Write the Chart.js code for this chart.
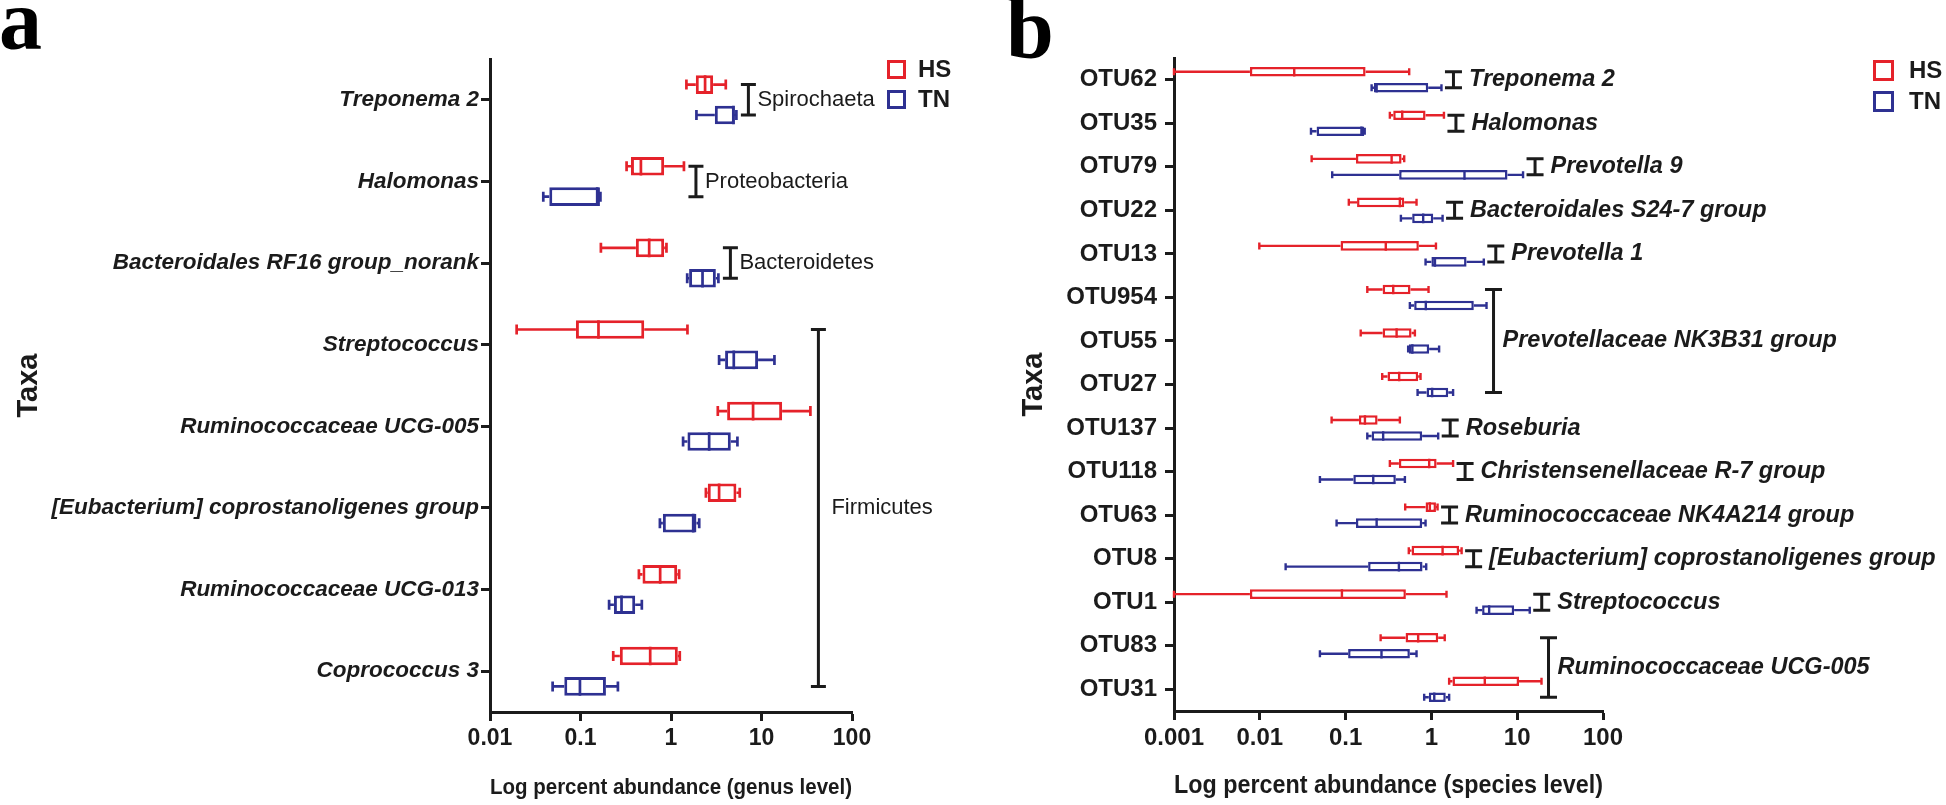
<!DOCTYPE html>
<html>
<head>
<meta charset="utf-8">
<script src="https://cdn.jsdelivr.net/npm/chart.js@4.4.1/dist/chart.umd.min.js"></script>
<style>
    html, body { margin: 0; padding: 0; background: #fff; }
    body { width: 1946px; height: 805px; position: relative; overflow: hidden; }
    canvas { position: absolute; top: 0; }
    #genus { left: 0; }
    #species { left: 973px; }
</style>
</head>
<body>
<canvas id="genus" width="973" height="805"></canvas>
<canvas id="species" width="973" height="805"></canvas>
<script>
const RED = '#e5222a';
const BLUE = '#2e3192';
const INK = '#1b1b1b';
const SANS = '"Liberation Sans", Arial, sans-serif';

const groups = ['HS', 'TN'];

// panel a, genus level: [min, q1, median, q3, max] in percent
const genusTaxa = [
    'Treponema 2', 'Halomonas', 'Bacteroidales RF16 group_norank', 'Streptococcus',
    'Ruminococcaceae UCG-005', '[Eubacterium] coprostanoligenes group',
    'Ruminococcaceae UCG-013', 'Coprococcus 3',
];
const genusHS = [
    [1.48, 1.88, 2.38, 2.92, 4.03],
    [0.323, 0.361, 0.465, 0.84, 1.39],
    [0.168, 0.409, 0.574, 0.84, 0.891],
    [0.0197, 0.089, 0.158, 0.506, 1.52],
    [3.29, 4.17, 8.07, 16.9, 34.7],
    [2.43, 2.55, 3.4, 5.28, 5.75],
    [0.442, 0.484, 0.759, 1.17, 1.23],
    [0.23, 0.272, 0.589, 1.19, 1.25],
];
const genusTN = [
    [1.91, 3.05, 4.9, 5.07, 5.28],
    [0.0388, 0.0452, 0.153, 0.164, 0.166],
    [1.51, 1.585, 2.23, 3.13, 3.34],
    [3.4, 3.96, 4.94, 9.17, 13.9],
    [1.36, 1.52, 2.64, 4.58, 5.42],
    [0.754, 0.813, 1.76, 1.91, 2.05],
    [0.207, 0.234, 0.284, 0.402, 0.476],
    [0.0492, 0.0662, 0.0986, 0.191, 0.259],
];
// [label, first row, last row]
const genusPhyla = [
    ['Spirochaeta', 0, 0],
    ['Proteobacteria', 1, 1],
    ['Bacteroidetes', 2, 2],
    ['Firmicutes', 3, 7],
];
const genusTicks = [0.01, 0.1, 1, 10, 100];

// panel b, species level
const speciesOtus = [
    'OTU62', 'OTU35', 'OTU79', 'OTU22', 'OTU13', 'OTU954', 'OTU55', 'OTU27',
    'OTU137', 'OTU118', 'OTU63', 'OTU8', 'OTU1', 'OTU83', 'OTU31',
];
const speciesHS = [
    [0.001, 0.00767, 0.0252, 0.171, 0.551],
    [0.328, 0.359, 0.457, 0.855, 1.4],
    [0.0402, 0.132, 0.344, 0.449, 0.482],
    [0.109, 0.136, 0.429, 0.482, 0.671],
    [0.00987, 0.0873, 0.294, 0.714, 1.13],
    [0.179, 0.27, 0.359, 0.571, 0.926],
    [0.15, 0.27, 0.393, 0.587, 0.642],
    [0.267, 0.308, 0.421, 0.701, 0.747],
    [0.0687, 0.143, 0.168, 0.236, 0.429],
    [0.328, 0.418, 0.942, 1.15, 1.79],
    [0.495, 0.855, 0.959, 1.13, 1.18],
    [0.545, 0.587, 1.35, 2.1, 2.25],
    [0.001, 0.00767, 0.0906, 0.504, 1.5],
    [0.256, 0.5, 0.701, 1.2, 1.43],
    [1.61, 1.76, 4.19, 10.5, 19.2],
];
const speciesTN = [
    [0.201, 0.214, 0.23, 0.918, 1.31],
    [0.0395, 0.0459, 0.153, 0.165, 0.167],
    [0.0698, 0.421, 2.43, 7.71, 11.7],
    [0.441, 0.597, 0.802, 1.05, 1.35],
    [0.855, 1.0, 1.1, 2.57, 4.08],
    [0.561, 0.63, 0.861, 3.12, 4.39],
    [0.536, 0.545, 0.6, 0.942, 1.23],
    [0.69, 0.878, 1.02, 1.57, 1.79],
    [0.179, 0.201, 0.274, 0.78, 1.2],
    [0.0502, 0.123, 0.21, 0.385, 0.491],
    [0.0785, 0.132, 0.23, 0.78, 0.855],
    [0.02, 0.183, 0.418, 0.788, 0.87],
    [3.36, 3.9, 4.71, 9.21, 14.0],
    [0.0502, 0.107, 0.262, 0.561, 0.671],
    [0.824, 0.933, 1.08, 1.47, 1.61],
];
const speciesGenera = [
    ['Treponema 2', 0, 0],
    ['Halomonas', 1, 1],
    ['Prevotella 9', 2, 2],
    ['Bacteroidales S24-7 group', 3, 3],
    ['Prevotella 1', 4, 4],
    ['Prevotellaceae NK3B31 group', 5, 7],
    ['Roseburia', 8, 8],
    ['Christensenellaceae R-7 group', 9, 9],
    ['Ruminococcaceae NK4A214 group', 10, 10],
    ['[Eubacterium] coprostanoligenes group', 11, 11],
    ['Streptococcus', 12, 12],
    ['Ruminococcaceae UCG-005', 13, 14],
];
const speciesTicks = [0.001, 0.01, 0.1, 1, 10, 100];

// whiskers, caps and medians on top of the floating bars (q1..q3)
const whiskerPlugin = {
    id: 'whiskers',
    afterDatasetsDraw(chart, args, opts) {
        const { ctx } = chart;
        const px = v => chart.scales.x.getPixelForValue(v);
        ctx.save();
        ctx.lineWidth = opts.lineWidth;
        chart.data.datasets.forEach((ds, i) => {
            ctx.strokeStyle = ds.borderColor;
            chart.getDatasetMeta(i).data.forEach((bar, j) => {
                const [lo, q1, med, q3, hi] = ds.stats[j];
                const y = bar.y;
                const h = bar.height / 2;
                const c = opts.cap / 2;
                ctx.beginPath();
                ctx.moveTo(px(lo), y);
                ctx.lineTo(px(q1), y);
                ctx.moveTo(px(q3), y);
                ctx.lineTo(px(hi), y);
                ctx.moveTo(px(lo), y - c);
                ctx.lineTo(px(lo), y + c);
                ctx.moveTo(px(hi), y - c);
                ctx.lineTo(px(hi), y + c);
                ctx.moveTo(px(med), y - h);
                ctx.lineTo(px(med), y + h);
                ctx.stroke();
            });
        });
        ctx.restore();
    },
};

const bracketPlugin = {
    id: 'brackets',
    afterDraw(chart, args, opts) {
        const { ctx } = chart;
        const px = v => chart.scales.x.getPixelForValue(v);
        const top = chart.getDatasetMeta(0).data;
        const bottom = chart.getDatasetMeta(1).data;
        ctx.save();
        ctx.strokeStyle = INK;
        ctx.fillStyle = INK;
        ctx.lineWidth = opts.lineWidth;
        ctx.font = opts.font;
        ctx.textAlign = 'left';
        ctx.textBaseline = 'middle';
        opts.groups.forEach(([label, from, to]) => {
            let right = -Infinity;
            chart.data.datasets.forEach(ds => {
                for (let k = from; k <= to; k++) right = Math.max(right, px(ds.stats[k][4]));
            });
            const single = from === to;
            const x = right + (single ? opts.gapSingle : opts.gapSpan);
            const y1 = top[from].y;
            const y2 = bottom[to].y;
            const c = opts.cap / 2;
            ctx.beginPath();
            ctx.moveTo(x, y1);
            ctx.lineTo(x, y2);
            ctx.moveTo(x - c, y1);
            ctx.lineTo(x + c, y1);
            ctx.moveTo(x - c, y2);
            ctx.lineTo(x + c, y2);
            ctx.stroke();
            ctx.fillText(label, x + (single ? opts.textSingle : opts.textSpan), (y1 + y2) / 2);
        });
        ctx.restore();
    },
};

const legendPlugin = {
    id: 'boxLegend',
    afterDraw(chart, args, opts) {
        const { ctx } = chart;
        const lw = opts.lineWidth;
        ctx.save();
        ctx.font = opts.font;
        ctx.fillStyle = INK;
        ctx.textBaseline = 'middle';
        chart.data.datasets.forEach((ds, i) => {
            const y = opts.y + i * opts.rowGap;
            ctx.strokeStyle = ds.borderColor;
            ctx.lineWidth = lw;
            ctx.strokeRect(opts.x + lw / 2, y + lw / 2, opts.size - lw, opts.size - lw);
            ctx.fillText(ds.label, opts.x + opts.size + opts.textGap, y + opts.size / 2 + 1);
        });
        ctx.restore();
    },
};

const letterPlugin = {
    id: 'panelLetter',
    afterDraw(chart, args, opts) {
        const { ctx } = chart;
        ctx.save();
        ctx.font = 'bold 86px "Liberation Serif", "Times New Roman", serif';
        ctx.fillStyle = '#000';
        ctx.textBaseline = 'alphabetic';
        ctx.fillText(opts.text, opts.x, opts.y);
        ctx.restore();
    },
};

function boxDataset(label, stats, color, o) {
    return {
        label,
        stats,
        data: stats.map(s => [s[1], s[3]]),
        borderColor: color,
        backgroundColor: '#ffffff',
        borderWidth: o.boxLine,
        borderSkipped: false,
        categoryPercentage: o.catPct,
        barPercentage: o.barPct,
    };
}

function makeBoxChart(canvasId, o) {
    const ctx = document.getElementById(canvasId).getContext('2d');
    return new Chart(ctx, {
        type: 'bar',
        data: {
            labels: o.labels,
            datasets: [
                boxDataset(groups[0], o.hs, RED, o),
                boxDataset(groups[1], o.tn, BLUE, o),
            ],
        },
        options: {
            responsive: false,
            animation: false,
            indexAxis: 'y',
            layout: { padding: o.padding },
            scales: {
                x: {
                    type: 'logarithmic',
                    min: o.ticks[0],
                    max: o.ticks[o.ticks.length - 1],
                    afterBuildTicks(scale) {
                        scale.ticks = o.ticks.map(value => ({ value }));
                    },
                    afterFit(scale) {
                        scale.height = o.xHeight;
                    },
                    ticks: {
                        callback: value => String(value),
                        color: INK,
                        font: { family: SANS, size: o.xTickSize, weight: 'bold' },
                        padding: 4,
                        maxRotation: 0,
                        autoSkip: false,
                    },
                    grid: { drawOnChartArea: false, tickLength: 9, tickWidth: 3, tickColor: INK },
                    border: { color: INK, width: 3 },
                    title: {
                        display: true,
                        text: o.xTitle,
                        color: INK,
                        font: { family: SANS, size: o.xTitleSize, weight: 'bold' },
                        padding: { top: 0, bottom: 4 },
                    },
                },
                y: {
                    afterFit(scale) {
                        scale.width = o.yWidth;
                    },
                    ticks: {
                        color: INK,
                        font: o.yTickFont,
                        padding: o.yTickPad,
                        autoSkip: false,
                    },
                    grid: { offset: false, drawOnChartArea: false, tickLength: 9, tickWidth: 3, tickColor: INK },
                    border: { color: INK, width: 3 },
                    title: {
                        display: true,
                        text: 'Taxa',
                        color: INK,
                        font: { family: SANS, size: 29, weight: 'bold' },
                        padding: { top: o.taxaPad, bottom: 0 },
                    },
                },
            },
            plugins: {
                legend: { display: false },
                tooltip: { enabled: false },
                whiskers: { lineWidth: o.whiskerLine, cap: o.cap },
                brackets: o.brackets,
                boxLegend: o.legend,
                panelLetter: o.letter,
            },
        },
        plugins: [whiskerPlugin, bracketPlugin, legendPlugin, letterPlugin],
    });
}

makeBoxChart('genus', {
    labels: genusTaxa,
    hs: genusHS,
    tn: genusTN,
    ticks: genusTicks,
    xTitle: 'Log percent abundance (genus level)',
    padding: { top: 59, right: 121, bottom: 0, left: 0 },
    yWidth: 490,
    xHeight: 93,
    catPct: 0.745,
    barPct: 0.615,
    boxLine: 3,
    whiskerLine: 2.7,
    cap: 10,
    xTickSize: 23,
    xTitleSize: 22,
    yTickFont: { family: SANS, size: 22.5, weight: 'bold', style: 'italic' },
    yTickPad: 2,
    taxaPad: 12,
    brackets: {
        groups: genusPhyla,
        font: '22px ' + SANS,
        lineWidth: 3,
        cap: 15,
        gapSingle: 12,
        gapSpan: 8,
        textSingle: 9,
        textSpan: 13,
    },
    legend: { x: 887, y: 60, size: 19, rowGap: 30, textGap: 12, lineWidth: 3, font: 'bold 24px ' + SANS },
    letter: { text: 'a', x: -1, y: 49 },
});

makeBoxChart('species', {
    labels: speciesOtus,
    hs: speciesHS,
    tn: speciesTN,
    ticks: speciesTicks,
    xTitle: 'Log percent abundance (species level)',
    padding: { top: 58, right: 343, bottom: 0, left: 0 },
    yWidth: 201,
    xHeight: 94,
    catPct: 0.735,
    barPct: 0.6,
    boxLine: 2.5,
    whiskerLine: 2.4,
    cap: 7,
    xTickSize: 24,
    xTitleSize: 25,
    yTickFont: { family: SANS, size: 24, weight: 'bold' },
    yTickPad: 8,
    taxaPad: 44,
    brackets: {
        groups: speciesGenera,
        font: 'italic bold 23.5px ' + SANS,
        lineWidth: 3,
        cap: 17,
        gapSingle: 12,
        gapSpan: 7,
        textSingle: 15.5,
        textSpan: 9,
    },
    legend: { x: 900, y: 60, size: 21, rowGap: 31, textGap: 15, lineWidth: 3, font: 'bold 24px ' + SANS },
    letter: { text: 'b', x: 33, y: 57 },
});
</script>
</body>
</html>
